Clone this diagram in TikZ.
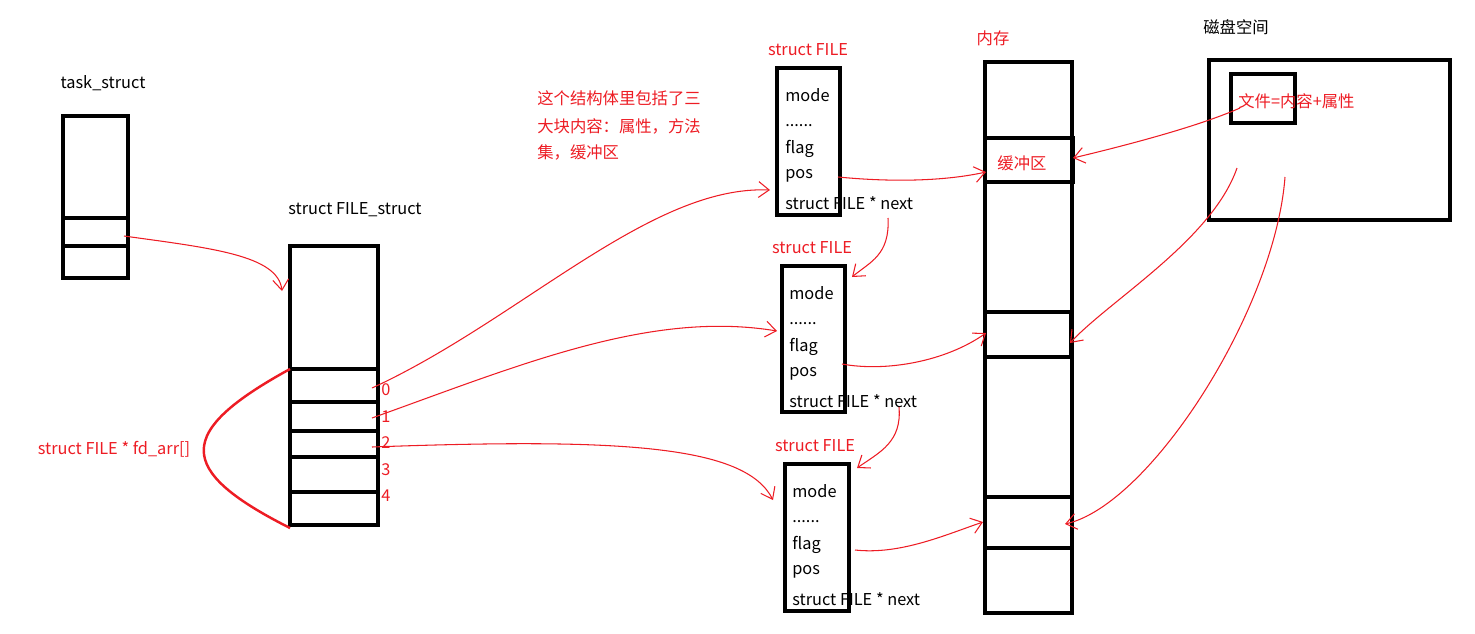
\documentclass[tikz,border=0pt]{standalone}
\usepackage{fontspec}
\setmainfont{Noto Sans CJK SC}
\usetikzlibrary{arrows.meta}
\definecolor{pred}{HTML}{ED1C24}
\tikzset{
  box/.style={draw=black,line width=2.1pt},
  lbl/.style={font=\fontsize{9.3}{11}\selectfont,inner sep=0pt,text=black},
  rlbl/.style={lbl,text=pred},
  field/.style={lbl,anchor=west},
  ptr/.style={draw=pred,line width=0.6pt,-{Straight Barb[length=6pt,width=9pt]}},
  brace/.style={draw=pred,line width=1.4pt},
}
\begin{document}
\begin{tikzpicture}[x=0.02cm,y=-0.02cm]
\useasboundingbox (0,0) rectangle (1475,633);
% task_struct
\node[lbl] (tslbl) at (103,83) {task\_struct};
\draw[box] (63,116) rectangle (128,278);
\draw[box] (63,218) -- (128,218) (63,246) -- (128,246);
% FILE_struct
\node[lbl] (fslbl) at (355,210) {struct FILE\_struct};
\draw[box] (290,246) rectangle (378,525);
\foreach \yy in {369,402,431,457,492} \draw[box] (290,\yy) -- (378,\yy);
\node[rlbl,anchor=west] (n0) at (381,390) {0};
\node[rlbl,anchor=west] (n1) at (381,417) {1};
\node[rlbl,anchor=west] (n2) at (381,443) {2};
\node[rlbl,anchor=west] (n3) at (381,470) {3};
\node[rlbl,anchor=west] (n4) at (381,496) {4};
\draw[brace] (290,369) .. controls (175,432) and (175,470) .. (290,528);
\node[rlbl] (fdarr) at (114,449) {struct FILE * fd\_arr[]};
% note
\node[rlbl,anchor=west] (note1) at (537,98) {这个结构体里包括了三};
\node[rlbl,anchor=west] (note2) at (537,126) {大块内容：属性，方法};
\node[rlbl,anchor=west] (note3) at (537,152) {集，缓冲区};
% FILE 1
\node[rlbl] (f1lbl) at (808,50) {struct FILE};
\draw[box] (777,68) rectangle (840,215);
\node[field] (f1mode) at (785,95) {mode};
\node[field] (f1dots) at (785,126) {......};
\node[field] (f1flag) at (785,149) {flag};
\node[field] (f1pos) at (785,176) {pos};
\node[field] (f1next) at (785,203) {struct FILE * next};
% FILE 2
\node[rlbl] (f2lbl) at (812,248) {struct FILE};
\draw[box] (782,266) rectangle (845,412);
\node[field] (f2mode) at (789,293) {mode};
\node[field] (f2dots) at (789,324) {......};
\node[field] (f2flag) at (789,347) {flag};
\node[field] (f2pos) at (789,374) {pos};
\node[field] (f2next) at (789,401) {struct FILE * next};
% FILE 3
\node[rlbl] (f3lbl) at (815,446) {struct FILE};
\draw[box] (785,464) rectangle (849,611);
\node[field] (f3mode) at (792,491) {mode};
\node[field] (f3dots) at (792,522) {......};
\node[field] (f3flag) at (792,545) {flag};
\node[field] (f3pos) at (792,572) {pos};
\node[field] (f3next) at (792,599) {struct FILE * next};
% memory
\node[rlbl] (memlbl) at (993,38) {内存};
\draw[box] (985,62) rectangle (1072,613);
\draw[box] (985,138) rectangle (1073,182);
\draw[box] (985,312) rectangle (1071,357);
\draw[box] (985,497) rectangle (1072,548);
\node[rlbl] (buf) at (1022,163) {缓冲区};
% disk
\node[lbl] (disklbl) at (1236,27) {磁盘空间};
\draw[box] (1209,60) rectangle (1450,220);
\draw[box] (1231,74) rectangle (1295,123);
\node[rlbl,anchor=west] (file) at (1238,101) {文件=内容+属性};
% connector end points
\coordinate (a1s) at (124,236); \coordinate (a1e) at (282,291);
\coordinate (a2s) at (372,388); \coordinate (a2e) at (770,190);
\coordinate (a3s) at (372,418); \coordinate (a3e) at (777,331);
\coordinate (a4s) at (372,447); \coordinate (a4e) at (773,500);
\coordinate (a5s) at (838,177); \coordinate (a5e) at (986,172);
\coordinate (a6s) at (888,218); \coordinate (a6e) at (852,277);
\coordinate (a7s) at (842,364); \coordinate (a7e) at (986,333);
\coordinate (a8s) at (899,407); \coordinate (a8e) at (857,468);
\coordinate (a9s) at (855,550); \coordinate (a9e) at (983,522);
\coordinate (a10s) at (1240,108); \coordinate (a10e) at (1073,158);
\coordinate (a11s) at (1237,168); \coordinate (a11e) at (1070,343);
\coordinate (a12s) at (1285,177); \coordinate (a12e) at (1065,524);
\draw[ptr] (a1s) .. controls (210,248) and (278,255) .. (a1e);
\draw[ptr] (a2s) .. controls (520,320) and (650,185) .. (a2e);
\draw[ptr] (a3s) .. controls (520,365) and (650,310) .. (a3e);
\draw[ptr] (a4s) .. controls (620,438) and (745,445) .. (a4e);
\draw[ptr] (a5s) .. controls (900,183) and (950,180) .. (a5e);
\draw[ptr] (a6s) .. controls (890,255) and (870,262) .. (a6e);
\draw[ptr] (a7s) .. controls (885,372) and (945,362) .. (a7e);
\draw[ptr] (a8s) .. controls (902,442) and (880,452) .. (a8e);
\draw[ptr] (a9s) .. controls (900,555) and (945,535) .. (a9e);
\draw[ptr] (a10s) .. controls (1195,128) and (1115,148) .. (a10e);
\draw[ptr] (a11s) .. controls (1212,240) and (1110,300) .. (a11e);
\draw[ptr] (a12s) .. controls (1275,310) and (1150,505) .. (a12e);
\end{tikzpicture}
\end{document}
